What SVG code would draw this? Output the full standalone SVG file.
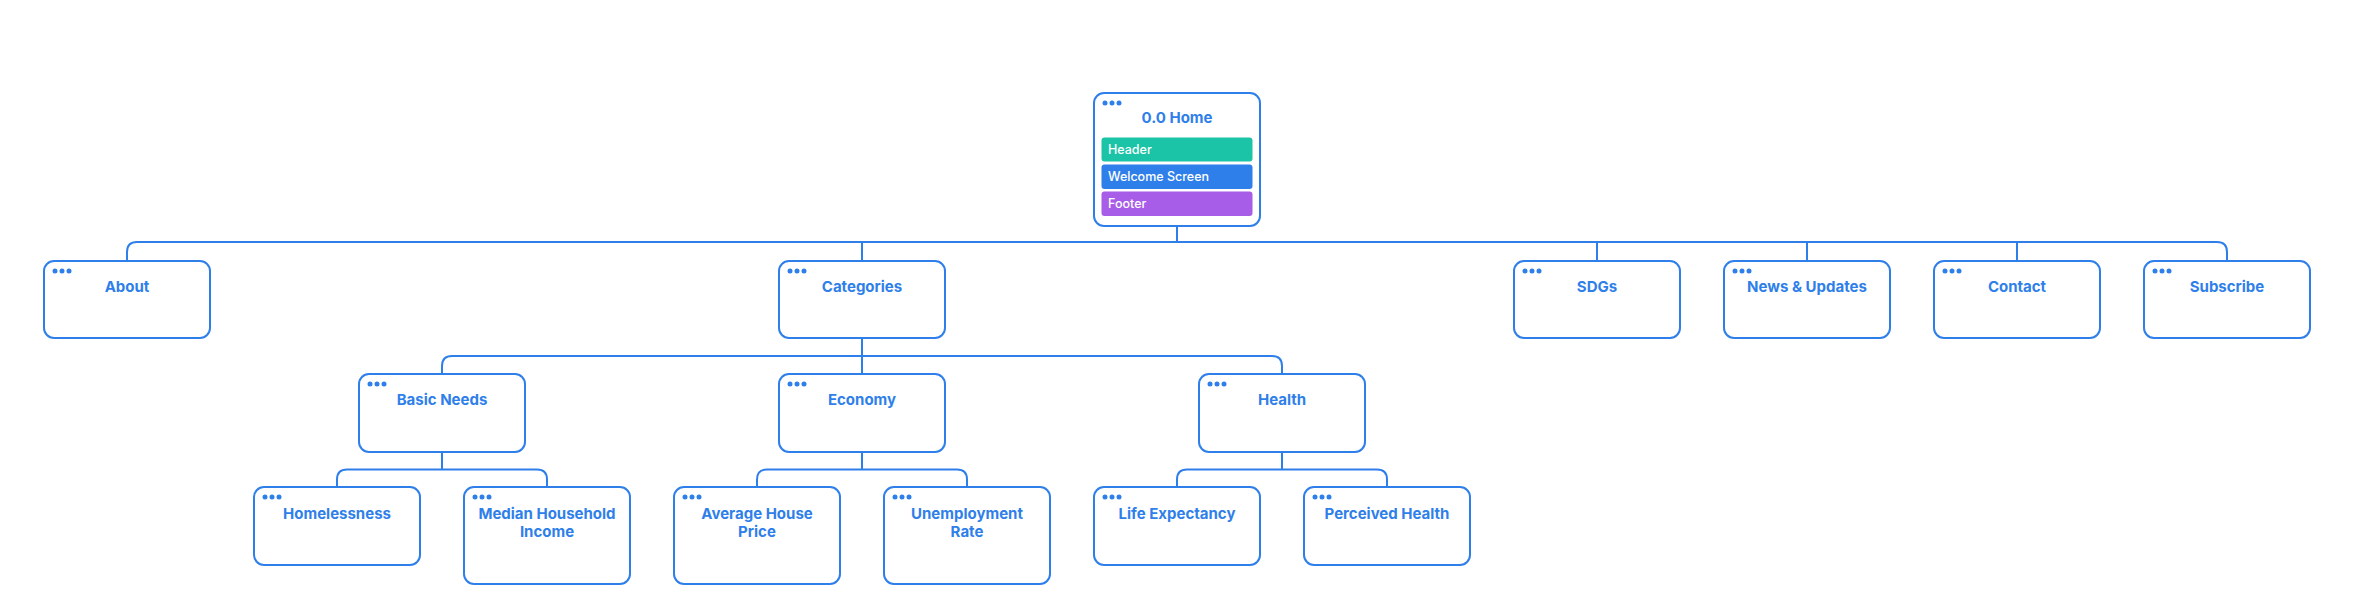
<svg xmlns="http://www.w3.org/2000/svg" width="2365" height="615" viewBox="0 0 2365 615">
<defs>
<style>
.box{fill:#fff;stroke:#2f7fea;stroke-width:2}
.dot{fill:#2f7fea}
.t{font-family:Inter,"Liberation Sans",sans-serif;font-size:15px;font-weight:700;fill:#2f7fea;text-anchor:middle}
.bt{font-family:Inter,"Liberation Sans",sans-serif;font-size:12.5px;font-weight:500;fill:#fff}
.c{fill:none;stroke:#2f7fea;stroke-width:2}
</style>
<g id="dots"><circle cx="11" cy="10" r="2.5" class="dot"/><circle cx="18" cy="10" r="2.5" class="dot"/><circle cx="25" cy="10" r="2.5" class="dot"/></g>
</defs>
<rect width="2365" height="615" fill="#fff"/>
<g id="connectors" class="c">
<path d="M1177 226V242"/>
<path d="M127 261V252Q127 242 137 242H2217Q2227 242 2227 252V261"/>
<path d="M862 242V261M1597 242V261M1807 242V261M2017 242V261"/>
<path d="M862 338V356"/>
<path d="M442 374V366Q442 356 452 356H1272Q1282 356 1282 366V374"/>
<path d="M862 356V374"/>
<path d="M442 452V469.5"/>
<path d="M337 487V479.5Q337 469.5 347 469.5H537Q547 469.5 547 479.5V487"/>
<path d="M862 452V469.5"/>
<path d="M757 487V479.5Q757 469.5 767 469.5H957Q967 469.5 967 479.5V487"/>
<path d="M1282 452V469.5"/>
<path d="M1177 487V479.5Q1177 469.5 1187 469.5H1377Q1387 469.5 1387 479.5V487"/>
</g>
<g id="home">
<rect class="box" x="1094" y="93" width="166" height="133" rx="10"/>
<use href="#dots" x="1094" y="93"/>
<text class="t" x="1177" y="123">0.0 Home</text>
<rect x="1101.5" y="137.5" width="151" height="24" rx="3" fill="#1bc3a7"/>
<text class="bt" x="1108" y="154">Header</text>
<rect x="1101.5" y="164.5" width="151" height="24.5" rx="3" fill="#2f7fea"/>
<text class="bt" x="1108" y="181">Welcome Screen</text>
<rect x="1101.5" y="191.5" width="151" height="24.5" rx="3" fill="#a75de7"/>
<text class="bt" x="1108" y="208">Footer</text>
</g>
<g id="about"><rect class="box" x="44" y="261" width="166" height="77" rx="10"/><use href="#dots" x="44" y="261"/><text class="t" x="127" y="291.5">About</text></g>
<g id="categories"><rect class="box" x="779" y="261" width="166" height="77" rx="10"/><use href="#dots" x="779" y="261"/><text class="t" x="862" y="291.5">Categories</text></g>
<g id="sdgs"><rect class="box" x="1514" y="261" width="166" height="77" rx="10"/><use href="#dots" x="1514" y="261"/><text class="t" x="1597" y="291.5">SDGs</text></g>
<g id="news"><rect class="box" x="1724" y="261" width="166" height="77" rx="10"/><use href="#dots" x="1724" y="261"/><text class="t" x="1807" y="291.5">News &amp; Updates</text></g>
<g id="contact"><rect class="box" x="1934" y="261" width="166" height="77" rx="10"/><use href="#dots" x="1934" y="261"/><text class="t" x="2017" y="291.5">Contact</text></g>
<g id="subscribe"><rect class="box" x="2144" y="261" width="166" height="77" rx="10"/><use href="#dots" x="2144" y="261"/><text class="t" x="2227" y="291.5">Subscribe</text></g>
<g id="basic-needs"><rect class="box" x="359" y="374" width="166" height="78" rx="10"/><use href="#dots" x="359" y="374"/><text class="t" x="442" y="405">Basic Needs</text></g>
<g id="economy"><rect class="box" x="779" y="374" width="166" height="78" rx="10"/><use href="#dots" x="779" y="374"/><text class="t" x="862" y="405">Economy</text></g>
<g id="health"><rect class="box" x="1199" y="374" width="166" height="78" rx="10"/><use href="#dots" x="1199" y="374"/><text class="t" x="1282" y="405">Health</text></g>
<g id="homelessness"><rect class="box" x="254" y="487" width="166" height="78" rx="10"/><use href="#dots" x="254" y="487"/><text class="t" x="337" y="518.5">Homelessness</text></g>
<g id="median-household-income"><rect class="box" x="464" y="487" width="166" height="97" rx="10"/><use href="#dots" x="464" y="487"/><text class="t" x="547" y="518.5">Median Household</text><text class="t" x="547" y="537">Income</text></g>
<g id="average-house-price"><rect class="box" x="674" y="487" width="166" height="97" rx="10"/><use href="#dots" x="674" y="487"/><text class="t" x="757" y="518.5">Average House</text><text class="t" x="757" y="537">Price</text></g>
<g id="unemployment-rate"><rect class="box" x="884" y="487" width="166" height="97" rx="10"/><use href="#dots" x="884" y="487"/><text class="t" x="967" y="518.5">Unemployment</text><text class="t" x="967" y="537">Rate</text></g>
<g id="life-expectancy"><rect class="box" x="1094" y="487" width="166" height="78" rx="10"/><use href="#dots" x="1094" y="487"/><text class="t" x="1177" y="518.5">Life Expectancy</text></g>
<g id="perceived-health"><rect class="box" x="1304" y="487" width="166" height="78" rx="10"/><use href="#dots" x="1304" y="487"/><text class="t" x="1387" y="518.5">Perceived Health</text></g>
</svg>
